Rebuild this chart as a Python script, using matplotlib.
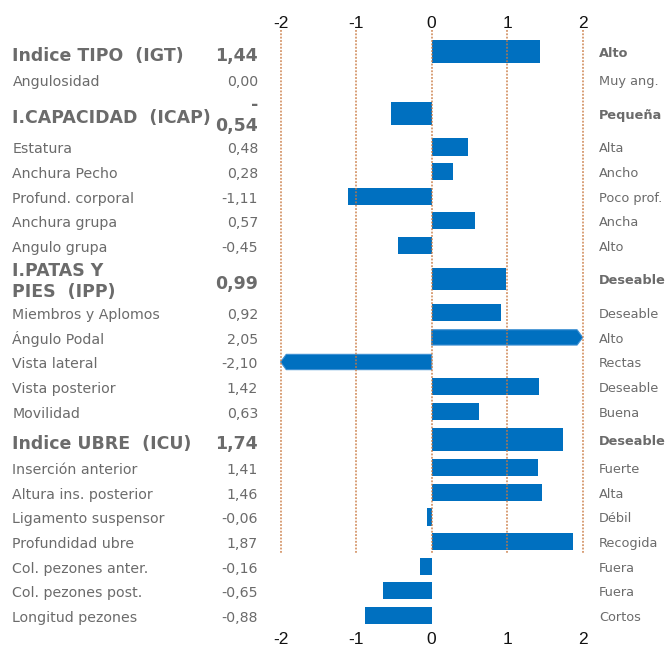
import matplotlib
matplotlib.use("Agg")
import matplotlib.pyplot as plt
import matplotlib.transforms as mtransforms
from matplotlib.patches import Polygon, Rectangle

# ---------------- data ----------------
labels = ["Indice TIPO  (IGT)", "Angulosidad", "I.CAPACIDAD  (ICAP)", "Estatura",
          "Anchura Pecho", "Profund. corporal", "Anchura grupa", "Angulo grupa",
          "I.PATAS Y\nPIES  (IPP)", "Miembros y Aplomos", "Ángulo Podal", "Vista lateral",
          "Vista posterior", "Movilidad", "Indice UBRE  (ICU)", "Inserción anterior",
          "Altura ins. posterior", "Ligamento suspensor", "Profundidad ubre",
          "Col. pezones anter.", "Col. pezones post.", "Longitud pezones"]
values = [1.44, 0.00, -0.54, 0.48, 0.28, -1.11, 0.57, -0.45, 0.99, 0.92, 2.05, -2.10,
          1.42, 0.63, 1.74, 1.41, 1.46, -0.06, 1.87, -0.16, -0.65, -0.88]
descriptors = ["Alto", "Muy ang.", "Pequeña", "Alta", "Ancho", "Poco prof.", "Ancha", "Alto",
               "Deseable", "Deseable", "Alto", "Rectas", "Deseable", "Buena", "Deseable",
               "Fuerte", "Alta", "Débil", "Recogida", "Fuera", "Fuera", "Cortos"]
index_rows = ["Indice TIPO  (IGT)", "I.CAPACIDAD  (ICAP)", "I.PATAS Y\nPIES  (IPP)",
              "Indice UBRE  (ICU)"]
wrap_value_rows = ["I.CAPACIDAD  (ICAP)"]
grid_rows = 19          # gridlines span the first 19 rows
ticks = [-2, -1, 0, 1, 2]
xmin_v, xmax_v = -2, 2

# ---------------- layout ----------------
W, H = 668, 647
PX = 24.6                 # pixels per row unit
PPU = 75.53               # pixels per value unit
x_m2 = 280.6              # pixel of -2
BAR = "#0070C0"
GRID = "#c9783f"
TXT = "#6b6b6b"

fig = plt.figure(figsize=(W / 100, H / 100), dpi=100)
ax = fig.add_axes([0, 0, 1, 1])
ax.set_xlim(xmin_v - x_m2 / PPU, xmax_v + (W - x_m2 - 4 * PPU) / PPU)
ax.set_ylim(H / PX, 0)
ax.axis("off")

# row centres from row heights
heights = []
for lab, v in zip(labels, values):
    if lab in index_rows:
        two_line = ("\n" in lab) or (lab in wrap_value_rows)
        heights.append(1.74 if two_line else 1.30)
    else:
        heights.append(1.0)
centers = []
y = 51.3 / PX - heights[0] / 2
for h in heights:
    centers.append(y + h / 2)
    y += h

bt = mtransforms.blended_transform_factory(ax.transAxes, ax.transData)

def fmt(v):
    return f"{v:.2f}".replace(".", ",")

def put(x, yc, s, fs, fw, ha, base_off):
    """place text; single-line by baseline offset, multi-line centred"""
    if "\n" in s:
        ax.text(x, yc + 2.5 / PX, s, transform=bt, ha=ha, va="center", fontsize=fs,
                fontweight=fw, color=TXT, linespacing=1.2, multialignment=ha,
                family="DejaVu Sans")
    else:
        ax.text(x, yc + base_off / PX, s, transform=bt, ha=ha, va="baseline",
                fontsize=fs, fontweight=fw, color=TXT, family="DejaVu Sans")

for lab, v, d, yc, h in zip(labels, values, descriptors, centers, heights):
    idx = lab in index_rows
    bh = (22.7 if idx else 17.2) / PX
    if abs(v) > xmax_v:
        lim = xmax_v if v > 0 else xmin_v
        sgn = 1 if v > 0 else -1
        ah = 15.3 / PX
        tip = 0.075
        pts = [(0, yc - ah / 2), (lim - sgn * tip, yc - ah / 2), (lim, yc),
               (lim - sgn * tip, yc + ah / 2), (0, yc + ah / 2)]
        ax.add_patch(Polygon(pts, closed=True, facecolor=BAR, edgecolor="#3d8fd2",
                             linewidth=0.8, zorder=2, joinstyle="miter"))
    elif v != 0:
        ax.add_patch(Rectangle((min(0, v), yc - bh / 2), abs(v), bh,
                               facecolor=BAR, edgecolor="none", zorder=2))
    fs = 12.5 if idx else 10.2
    fw = "bold" if idx else "normal"
    off = 9.7 if idx else 6.5
    put(12.5 / W, yc, lab, fs, fw, "left", off)
    vt = fmt(v)
    if lab in wrap_value_rows and vt.startswith("-"):
        vt = "-\n" + vt[1:]
    put(258 / W, yc, vt, fs, fw, "right", off)
    put(599 / W, yc, d, 9.3, fw, "left", 5.4)

# gridlines (drawn over bars)
g_top = 30 / PX
g_bot = centers[grid_rows - 1] + heights[grid_rows - 1] / 2
for t in ticks:
    ax.plot([t, t], [g_top, g_bot], color=GRID, linewidth=1.1,
            linestyle=(0, (1.2, 1.0)), zorder=3, alpha=0.9)

# tick labels top and bottom
for t in ticks:
    for yp in (23 / PX, 640 / PX):
        ax.text(t, yp, str(t), ha="center", va="center", fontsize=12.5,
                family=["Liberation Sans Narrow", "Liberation Sans"], color="#111111",
                zorder=4)

fig.savefig("out.png", dpi=100)
